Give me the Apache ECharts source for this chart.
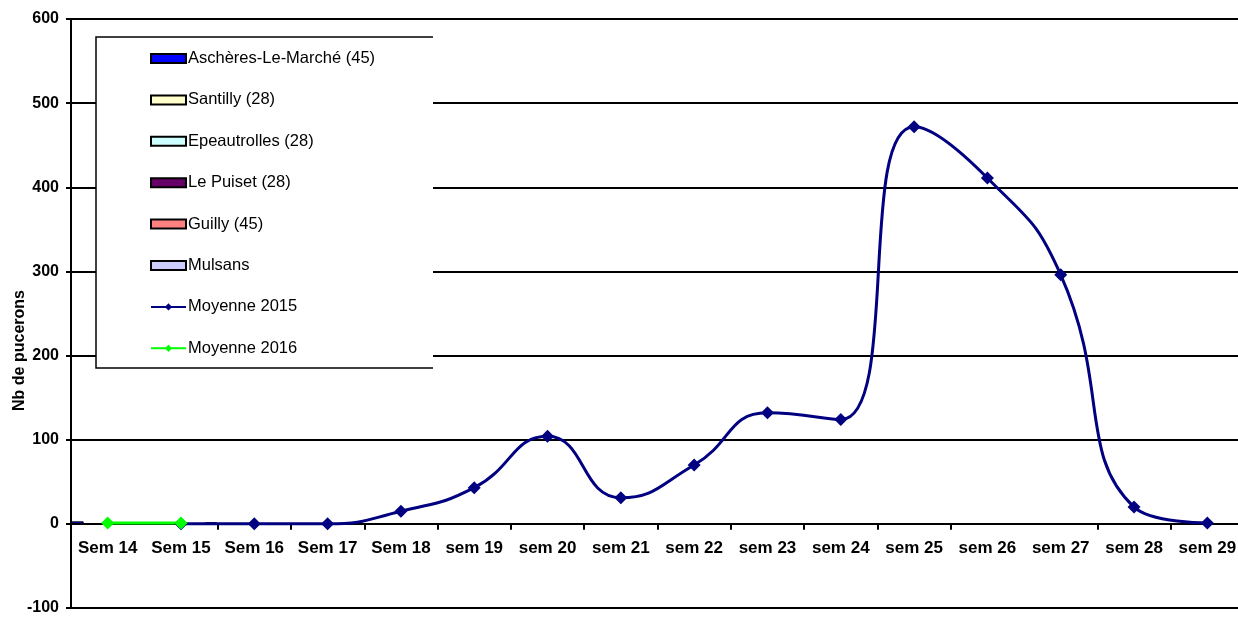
<!DOCTYPE html>
<html>
<head>
<meta charset="utf-8">
<script src="https://cdn.jsdelivr.net/npm/echarts@6/dist/echarts.min.js"></script>
<style>
html,body{margin:0;padding:0;background:#fff;}
#chart{width:1238px;height:617px;}
</style>
</head>
<body>
<div id="chart"></div>
<script>
// ---- data ----
var categories = ['Sem 14','Sem 15','Sem 16','Sem 17','Sem 18','sem 19','sem 20','sem 21','sem 22','sem 23','sem 24','sem 25','sem 26','sem 27','sem 28','sem 29'];
var aschères = [3, 0];
var santilly = [0, 0];
var epeautrolles = [0, 0];
var lePuiset = [0, 0];
var guilly = [0, 0];
var mulsans = [0, 2];
var moyenne2015 = [null, 0, 0, 0, 15, 43, 104, 31, 70, 132, 124, 472, 411, 296, 20, 1];
var moyenne2016 = [1, 1];
var yTicks = { min: -100, max: 600, interval: 100 };

var FONT = 'Liberation Sans, Arial, sans-serif';
var chart = echarts.init(document.getElementById('chart'), null, { renderer: 'canvas' });

function barSeries(name, data, color) {
  return {
    name: name, type: 'bar', data: data,
    barGap: '0%', barCategoryGap: '2%',
    itemStyle: { color: color, borderColor: '#000', borderWidth: 1 },
    z: 2
  };
}
function lineSeries(name, data, color) {
  return {
    name: name, type: 'line', data: data, smooth: 0.5,
    symbol: 'diamond', symbolSize: 13,
    lineStyle: { color: color, width: 3 },
    itemStyle: { color: color },
    z: 5
  };
}

var GRID_TOP = 19, GRID_BOTTOM = 9, H = 617;
var plotH = H - GRID_TOP - GRID_BOTTOM;
var zeroOffset = plotH * (0 - yTicks.min) / (yTicks.max - yTicks.min);

var option = {
  animation: false,
  backgroundColor: '#fff',
  grid: { left: 71, right: -6, top: GRID_TOP, bottom: GRID_BOTTOM, containLabel: false, outerBoundsMode: 'none' },
  legend: {
    orient: 'vertical', left: 150, top: 50,
    itemWidth: 35, itemHeight: 9, itemGap: 24.4,
    padding: 0,
    textStyle: { fontFamily: FONT, fontSize: 16.5, color: '#000', lineHeight: 16, padding: [0, 0, 0, -3] },
    data: [
      { name: 'Aschères-Le-Marché (45)', icon: 'rect' },
      { name: 'Santilly (28)', icon: 'rect' },
      { name: 'Epeautrolles (28)', icon: 'rect' },
      { name: 'Le Puiset (28)', icon: 'rect' },
      { name: 'Guilly (45)', icon: 'rect' },
      { name: 'Mulsans', icon: 'rect' },
      'Moyenne 2015', 'Moyenne 2016'
    ],
    z: 10
  },
  graphic: [
    { type: 'rect', z: 3, shape: { x: 96, y: 37, width: 337, height: 331 }, style: { fill: '#fff' } },
    { type: 'polyline', z: 4, shape: { points: [[433, 37], [96, 37], [96, 368], [433, 368]] }, style: { stroke: '#000', lineWidth: 1.5, fill: null } }
  ],
  xAxis: {
    type: 'category', data: categories, boundaryGap: true,
    position: 'bottom', offset: -zeroOffset,
    axisLine: { onZero: false, lineStyle: { color: '#000', width: 2 } },
    axisTick: { show: true, length: 6, lineStyle: { color: '#000', width: 2 },
      interval: function (i) { return i !== 1 && i !== 13; } },
    axisLabel: { interval: 0, margin: 16, fontFamily: FONT, fontSize: 17, fontWeight: 'bold', color: '#000' },
    splitLine: { show: false }
  },
  yAxis: {
    type: 'value', min: yTicks.min, max: yTicks.max, interval: yTicks.interval,
    name: 'Nb de pucerons', nameLocation: 'middle', nameGap: 43, nameRotate: 90,
    nameMoveOverlap: false,
    nameTextStyle: { fontFamily: FONT, fontSize: 16, fontWeight: 'bold', color: '#000', padding: [0, 74, 0, 0] },
    axisLine: { show: true, lineStyle: { color: '#000', width: 2 } },
    axisTick: { show: true, length: 5, lineStyle: { color: '#000', width: 2 } },
    axisLabel: { margin: 12, fontFamily: FONT, fontSize: 16, fontWeight: 'bold', color: '#000' },
    splitLine: { show: true, lineStyle: { color: '#000', width: 2 } }
  },
  series: [
    barSeries('Aschères-Le-Marché (45)', aschères, '#0000FF'),
    barSeries('Santilly (28)', santilly, '#FFFFCC'),
    barSeries('Epeautrolles (28)', epeautrolles, '#CCFFFF'),
    barSeries('Le Puiset (28)', lePuiset, '#660066'),
    barSeries('Guilly (45)', guilly, '#FF8080'),
    barSeries('Mulsans', mulsans, '#CCCCFF'),
    lineSeries('Moyenne 2015', moyenne2015, '#000080'),
    lineSeries('Moyenne 2016', moyenne2016, '#00FF00')
  ]
};
chart.setOption(option);
</script>
</body>
</html>
